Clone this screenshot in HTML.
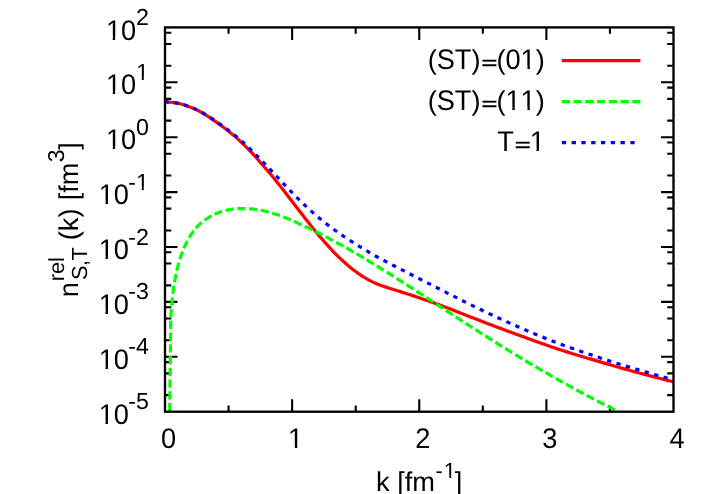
<!DOCTYPE html>
<html><head><meta charset="utf-8"><title>plot</title>
<style>
html,body{margin:0;padding:0;background:#fff;}
body{width:706px;height:494px;overflow:hidden;}
svg{display:block;will-change:transform;}
text{font-family:"Liberation Sans",sans-serif;fill:#000;text-rendering:geometricPrecision;font-kerning:none;font-variant-ligatures:none;white-space:pre;}
</style></head><body>
<svg width="706" height="494" viewBox="0 0 706 494">
<rect width="706" height="494" fill="#fff"/>
<defs><clipPath id="c"><rect x="165.0" y="27.4" width="508.5" height="384.3"/></clipPath></defs>
<path d="M165.0,32.72h6.3 M673.5,32.72h-6.3 M165.0,43.93h6.3 M673.5,43.93h-6.3 M165.0,65.77h6.3 M673.5,65.77h-6.3 M165.0,82.30h12.5 M673.5,82.30h-12.5 M165.0,87.62h6.3 M673.5,87.62h-6.3 M165.0,98.83h6.3 M673.5,98.83h-6.3 M165.0,120.67h6.3 M673.5,120.67h-6.3 M165.0,137.20h12.5 M673.5,137.20h-12.5 M165.0,142.52h6.3 M673.5,142.52h-6.3 M165.0,153.73h6.3 M673.5,153.73h-6.3 M165.0,175.57h6.3 M673.5,175.57h-6.3 M165.0,192.10h12.5 M673.5,192.10h-12.5 M165.0,197.42h6.3 M673.5,197.42h-6.3 M165.0,208.63h6.3 M673.5,208.63h-6.3 M165.0,230.47h6.3 M673.5,230.47h-6.3 M165.0,247.00h12.5 M673.5,247.00h-12.5 M165.0,252.32h6.3 M673.5,252.32h-6.3 M165.0,263.53h6.3 M673.5,263.53h-6.3 M165.0,285.37h6.3 M673.5,285.37h-6.3 M165.0,301.90h12.5 M673.5,301.90h-12.5 M165.0,307.22h6.3 M673.5,307.22h-6.3 M165.0,318.43h6.3 M673.5,318.43h-6.3 M165.0,340.27h6.3 M673.5,340.27h-6.3 M165.0,356.80h12.5 M673.5,356.80h-12.5 M165.0,362.12h6.3 M673.5,362.12h-6.3 M165.0,373.33h6.3 M673.5,373.33h-6.3 M165.0,395.17h6.3 M673.5,395.17h-6.3 M228.56,411.7v-6.3 M228.56,27.4v6.3 M292.12,411.7v-12.5 M292.12,27.4v12.5 M355.69,411.7v-6.3 M355.69,27.4v6.3 M419.25,411.7v-12.5 M419.25,27.4v12.5 M482.81,411.7v-6.3 M482.81,27.4v6.3 M546.38,411.7v-12.5 M546.38,27.4v12.5 M609.94,411.7v-6.3 M609.94,27.4v6.3" fill="none" stroke="#000" stroke-width="2.1"/>
<g fill="none" stroke-linejoin="round" clip-path="url(#c)">
<path d="M166.00,101.86 L168.50,102.04 L171.00,102.26 L173.50,102.55 L176.00,102.93 L178.50,103.42 L181.00,104.02 L183.50,104.73 L186.00,105.53 L188.50,106.41 L191.00,107.38 L193.50,108.44 L196.00,109.57 L198.50,110.78 L201.00,112.10 L203.50,113.52 L206.00,115.05 L208.50,116.67 L211.00,118.35 L213.50,120.07 L216.00,121.83 L218.50,123.62 L221.00,125.44 L223.50,127.30 L226.00,129.20 L228.50,131.15 L231.00,133.15 L233.50,135.23 L236.00,137.39 L238.50,139.64 L241.00,141.96 L243.50,144.36 L246.00,146.83 L248.50,149.37 L251.00,151.98 L253.50,154.67 L256.00,157.42 L258.50,160.24 L261.00,163.09 L263.50,165.96 L266.00,168.85 L268.50,171.78 L271.00,174.73 L273.50,177.73 L276.00,180.81 L278.50,183.95 L281.00,187.13 L283.50,190.35 L286.00,193.59 L288.50,196.84 L291.00,200.08 L293.50,203.33 L296.00,206.57 L298.50,209.81 L301.00,213.03 L303.50,216.24 L306.00,219.43 L308.50,222.60 L311.00,225.73 L313.50,228.83 L316.00,231.90 L318.50,234.92 L321.00,237.89 L323.50,240.80 L326.00,243.65 L328.50,246.43 L331.00,249.14 L333.50,251.78 L336.00,254.34 L338.50,256.82 L341.00,259.22 L343.50,261.53 L346.00,263.75 L348.50,265.89 L351.00,267.93 L353.50,269.90 L356.00,271.79 L358.50,273.59 L361.00,275.30 L363.50,276.92 L366.00,278.44 L368.50,279.85 L371.00,281.17 L373.50,282.38 L376.00,283.49 L378.50,284.51 L381.00,285.44 L383.50,286.30 L386.00,287.13 L388.50,287.93 L391.00,288.72 L393.50,289.51 L396.00,290.30 L398.50,291.09 L401.00,291.89 L403.50,292.68 L406.00,293.47 L408.50,294.26 L411.00,295.06 L413.50,295.88 L416.00,296.71 L418.50,297.55 L421.00,298.40 L423.50,299.26 L426.00,300.12 L428.50,300.99 L431.00,301.87 L433.50,302.75 L436.00,303.64 L438.50,304.55 L441.00,305.48 L443.50,306.42 L446.00,307.38 L448.50,308.35 L451.00,309.32 L453.50,310.29 L456.00,311.27 L458.50,312.25 L461.00,313.23 L463.50,314.21 L466.00,315.18 L468.50,316.16 L471.00,317.14 L473.50,318.11 L476.00,319.08 L478.50,320.04 L481.00,321.01 L483.50,321.97 L486.00,322.93 L488.50,323.88 L491.00,324.83 L493.50,325.78 L496.00,326.72 L498.50,327.66 L501.00,328.60 L503.50,329.53 L506.00,330.46 L508.50,331.38 L511.00,332.30 L513.50,333.21 L516.00,334.13 L518.50,335.04 L521.00,335.96 L523.50,336.87 L526.00,337.79 L528.50,338.71 L531.00,339.62 L533.50,340.53 L536.00,341.43 L538.50,342.32 L541.00,343.21 L543.50,344.10 L546.00,344.97 L548.50,345.84 L551.00,346.70 L553.50,347.55 L556.00,348.39 L558.50,349.22 L561.00,350.03 L563.50,350.83 L566.00,351.61 L568.50,352.39 L571.00,353.16 L573.50,353.92 L576.00,354.68 L578.50,355.43 L581.00,356.18 L583.50,356.92 L586.00,357.66 L588.50,358.41 L591.00,359.15 L593.50,359.90 L596.00,360.65 L598.50,361.40 L601.00,362.14 L603.50,362.88 L606.00,363.62 L608.50,364.35 L611.00,365.08 L613.50,365.80 L616.00,366.52 L618.50,367.23 L621.00,367.94 L623.50,368.64 L626.00,369.35 L628.50,370.04 L631.00,370.73 L633.50,371.42 L636.00,372.10 L638.50,372.78 L641.00,373.46 L643.50,374.13 L646.00,374.80 L648.50,375.46 L651.00,376.12 L653.50,376.77 L656.00,377.43 L658.50,378.07 L661.00,378.72 L663.50,379.35 L666.00,379.99 L668.50,380.62 L671.00,381.25 L673.50,381.87" stroke="#f00" stroke-width="3.2"/>
<path d="M169.70,411.70 L170.80,318.31 L170.88,316.86 L170.97,315.41 L171.06,313.97 L171.15,312.52 L171.25,311.08 L171.35,309.64 L171.46,308.20 L171.57,306.76 L171.69,305.32 L171.81,303.88 L171.94,302.45 L172.07,301.02 L172.21,299.58 L172.36,298.15 L172.51,296.73 L172.67,295.30 L172.84,293.87 L173.01,292.45 L173.19,291.03 L173.38,289.60 L173.58,288.18 L173.78,286.77 L174.00,285.35 L174.22,283.93 L174.45,282.52 L174.69,281.11 L174.94,279.70 L175.20,278.29 L175.47,276.88 L175.76,275.48 L176.05,274.07 L176.35,272.67 L176.66,271.27 L176.99,269.87 L177.32,268.47 L177.67,267.08 L178.03,265.68 L178.40,264.29 L178.79,262.91 L179.19,261.52 L179.60,260.14 L180.03,258.76 L180.47,257.38 L180.93,256.01 L181.41,254.65 L181.90,253.29 L182.41,251.93 L182.94,250.58 L183.49,249.24 L184.05,247.90 L184.64,246.56 L185.24,245.24 L185.86,243.92 L186.51,242.60 L187.17,241.30 L187.86,240.01 L188.57,238.72 L189.30,237.45 L190.05,236.19 L190.82,234.99 L191.62,233.80 L192.44,232.64 L193.28,231.49 L194.14,230.37 L195.02,229.27 L195.93,228.19 L196.86,227.14 L197.82,226.12 L198.79,225.12 L199.80,224.16 L200.82,223.22 L201.87,222.30 L202.95,221.42 L204.04,220.57 L205.17,219.76 L206.31,218.98 L207.48,218.24 L208.66,217.50 L209.87,216.76 L211.10,216.05 L212.35,215.37 L213.61,214.73 L214.89,214.12 L216.19,213.54 L217.51,212.99 L218.83,212.47 L220.18,211.99 L221.53,211.56 L222.90,211.16 L224.28,210.80 L225.67,210.46 L227.07,210.15 L228.48,209.87 L229.90,209.62 L231.32,209.39 L232.76,209.20 L234.20,209.03 L235.64,208.89 L237.09,208.77 L238.54,208.68 L239.99,208.62 L241.45,208.58 L242.91,208.57 L244.36,208.58 L245.82,208.61 L247.28,208.67 L248.73,208.74 L250.18,208.84 L251.63,208.96 L253.07,209.10 L254.51,209.27 L255.94,209.46 L257.36,209.67 L258.79,209.90 L260.20,210.15 L261.61,210.42 L263.02,210.71 L264.42,211.02 L265.82,211.35 L267.21,211.70 L268.60,212.06 L269.98,212.44 L271.36,212.83 L272.73,213.24 L274.10,213.66 L275.47,214.10 L276.83,214.55 L278.19,215.01 L279.55,215.49 L280.90,215.98 L282.25,216.47 L283.59,216.98 L284.93,217.50 L286.27,218.04 L287.61,218.59 L288.94,219.15 L290.27,219.72 L291.60,220.29 L292.92,220.87 L294.25,221.45 L295.57,222.04 L296.89,222.64 L298.20,223.23 L299.52,223.84 L300.83,224.44 L302.14,225.05 L303.45,225.66 L304.75,226.28 L306.06,226.90 L307.36,227.52 L308.66,228.14 L309.96,228.77 L311.26,229.40 L312.55,230.04 L313.85,230.67 L315.14,231.31 L316.43,231.96 L317.72,232.60 L319.01,233.25 L320.29,233.91 L321.57,234.56 L322.86,235.22 L324.14,235.88 L325.42,236.54 L326.69,237.21 L327.97,237.88 L329.24,238.55 L330.51,239.23 L331.78,239.90 L333.05,240.58 L334.32,241.27 L335.59,241.95 L336.85,242.64 L338.12,243.33 L339.38,244.02 L340.64,244.72 L341.90,245.41 L343.15,246.11 L344.41,246.82 L345.67,247.52 L346.92,248.23 L348.17,248.94 L349.42,249.65 L350.67,250.36 L351.92,251.08 L353.17,251.79 L354.42,252.51 L355.66,253.24 L356.90,253.96 L358.15,254.69 L359.39,255.41 L360.63,256.14 L361.87,256.88 L363.11,257.61 L364.34,258.35 L365.58,259.08 L366.81,259.82 L368.05,260.56 L369.28,261.31 L370.51,262.05 L371.74,262.80 L372.98,263.54 L374.20,264.29 L375.43,265.04 L376.66,265.80 L377.89,266.55 L379.11,267.31 L380.34,268.06 L381.56,268.82 L382.78,269.58 L384.01,270.34 L385.23,271.11 L386.45,271.87 L387.67,272.63 L388.89,273.40 L390.11,274.17 L391.33,274.94 L392.54,275.71 L393.76,276.48 L394.98,277.25 L396.19,278.02 L397.41,278.80 L398.62,279.57 L399.83,280.35 L401.05,281.13 L402.26,281.90 L403.47,282.68 L404.68,283.46 L405.89,284.24 L407.11,285.03 L408.32,285.81 L409.53,286.59 L410.74,287.37 L411.94,288.16 L413.15,288.94 L414.36,289.73 L415.57,290.52 L416.78,291.30 L417.98,292.09 L419.19,292.88 L420.40,293.66 L421.61,294.45 L422.81,295.24 L424.02,296.03 L425.22,296.82 L426.43,297.61 L427.64,298.40 L428.84,299.19 L430.05,299.98 L431.25,300.77 L432.46,301.56 L433.66,302.36 L434.87,303.15 L436.07,303.94 L437.28,304.73 L438.48,305.52 L439.69,306.31 L440.89,307.10 L442.10,307.90 L443.30,308.69 L444.51,309.48 L445.71,310.27 L446.92,311.06 L448.13,311.85 L449.33,312.64 L450.54,313.43 L451.74,314.22 L452.95,315.01 L454.16,315.80 L455.36,316.58 L456.57,317.37 L457.78,318.16 L458.99,318.94 L460.20,319.73 L461.40,320.52 L462.61,321.30 L463.82,322.09 L465.03,322.87 L466.24,323.65 L467.45,324.44 L468.66,325.22 L469.87,326.00 L471.08,326.78 L472.30,327.56 L473.51,328.34 L474.72,329.12 L475.93,329.90 L477.15,330.68 L478.36,331.45 L479.57,332.23 L480.79,333.01 L482.00,333.78 L483.22,334.56 L484.43,335.33 L485.65,336.10 L486.86,336.88 L488.08,337.65 L489.30,338.42 L490.52,339.19 L491.73,339.96 L492.95,340.73 L494.17,341.49 L495.39,342.26 L496.61,343.03 L497.83,343.79 L499.05,344.56 L500.27,345.32 L501.50,346.08 L502.72,346.84 L503.94,347.60 L505.17,348.36 L506.39,349.12 L507.61,349.88 L508.84,350.64 L510.06,351.40 L511.29,352.15 L512.52,352.90 L513.75,353.66 L514.97,354.41 L516.20,355.16 L517.43,355.91 L518.66,356.66 L519.89,357.41 L521.12,358.15 L522.35,358.89 L523.59,359.63 L524.82,360.37 L526.05,361.10 L527.29,361.84 L528.52,362.57 L529.76,363.30 L530.99,364.03 L532.23,364.76 L533.47,365.49 L534.70,366.22 L535.94,366.95 L537.18,367.67 L538.42,368.40 L539.66,369.12 L540.91,369.84 L542.15,370.57 L543.39,371.28 L544.63,372.00 L545.88,372.72 L547.12,373.44 L548.37,374.15 L549.62,374.87 L550.86,375.58 L552.11,376.29 L553.36,377.00 L554.61,377.71 L555.86,378.41 L557.11,379.12 L558.36,379.82 L559.62,380.53 L560.87,381.23 L562.12,381.93 L563.38,382.63 L564.64,383.33 L565.89,384.02 L567.15,384.72 L568.41,385.41 L569.67,386.10 L570.93,386.80 L572.19,387.49 L573.45,388.19 L574.71,388.88 L575.98,389.58 L577.24,390.27 L578.51,390.96 L579.77,391.64 L581.04,392.33 L582.31,393.01 L583.58,393.70 L584.85,394.38 L586.12,395.06 L587.39,395.74 L588.66,396.42 L589.94,397.09 L591.21,397.76 L592.49,398.44 L593.76,399.11 L595.04,399.78 L596.32,400.44 L597.60,401.11 L598.88,401.77 L600.16,402.44 L601.44,403.10 L602.73,403.76 L604.01,404.41 L605.30,405.07 L606.58,405.72 L607.87,406.37 L609.16,407.02 L610.45,407.67 L611.74,408.32 L613.03,408.96 L614.32,409.61 L615.62,410.25 L618.52,411.70" stroke="#0f0" stroke-width="3.2" stroke-dasharray="8.2 3.55" stroke-dashoffset="11.3"/>
<path d="M166.00,101.86 L168.50,102.04 L171.00,102.25 L173.50,102.54 L176.00,102.91 L178.50,103.39 L181.00,103.98 L183.50,104.68 L186.00,105.46 L188.50,106.32 L191.00,107.27 L193.50,108.30 L196.00,109.41 L198.50,110.59 L201.00,111.87 L203.50,113.26 L206.00,114.75 L208.50,116.32 L211.00,117.96 L213.50,119.63 L216.00,121.33 L218.50,123.06 L221.00,124.81 L223.50,126.60 L226.00,128.42 L228.50,130.29 L231.00,132.20 L233.50,134.18 L236.00,136.23 L238.50,138.36 L241.00,140.55 L243.50,142.80 L246.00,145.11 L248.50,147.47 L251.00,149.89 L253.50,152.36 L256.00,154.87 L258.50,157.43 L261.00,160.01 L263.50,162.58 L266.00,165.15 L268.50,167.73 L271.00,170.32 L273.50,172.92 L276.00,175.57 L278.50,178.24 L281.00,180.92 L283.50,183.59 L286.00,186.26 L288.50,188.90 L291.00,191.50 L293.50,194.08 L296.00,196.61 L298.50,199.11 L301.00,201.56 L303.50,203.97 L306.00,206.33 L308.50,208.65 L311.00,210.91 L313.50,213.13 L316.00,215.29 L318.50,217.41 L321.00,219.48 L323.50,221.50 L326.00,223.48 L328.50,225.41 L331.00,227.30 L333.50,229.15 L336.00,230.96 L338.50,232.74 L341.00,234.49 L343.50,236.20 L346.00,237.88 L348.50,239.54 L351.00,241.16 L353.50,242.77 L356.00,244.36 L358.50,245.93 L361.00,247.47 L363.50,249.00 L366.00,250.49 L368.50,251.97 L371.00,253.42 L373.50,254.84 L376.00,256.24 L378.50,257.61 L381.00,258.95 L383.50,260.28 L386.00,261.59 L388.50,262.89 L391.00,264.19 L393.50,265.48 L396.00,266.78 L398.50,268.07 L401.00,269.36 L403.50,270.65 L406.00,271.93 L408.50,273.21 L411.00,274.48 L413.50,275.76 L416.00,277.04 L418.50,278.32 L421.00,279.60 L423.50,280.88 L426.00,282.16 L428.50,283.43 L431.00,284.70 L433.50,285.97 L436.00,287.24 L438.50,288.51 L441.00,289.79 L443.50,291.06 L446.00,292.34 L448.50,293.62 L451.00,294.90 L453.50,296.17 L456.00,297.44 L458.50,298.70 L461.00,299.96 L463.50,301.21 L466.00,302.45 L468.50,303.69 L471.00,304.93 L473.50,306.15 L476.00,307.37 L478.50,308.58 L481.00,309.79 L483.50,310.98 L486.00,312.17 L488.50,313.35 L491.00,314.53 L493.50,315.69 L496.00,316.85 L498.50,318.00 L501.00,319.14 L503.50,320.28 L506.00,321.40 L508.50,322.52 L511.00,323.63 L513.50,324.74 L516.00,325.83 L518.50,326.93 L521.00,328.01 L523.50,329.09 L526.00,330.17 L528.50,331.24 L531.00,332.30 L533.50,333.36 L536.00,334.41 L538.50,335.45 L541.00,336.48 L543.50,337.50 L546.00,338.51 L548.50,339.51 L551.00,340.50 L553.50,341.48 L556.00,342.45 L558.50,343.41 L561.00,344.35 L563.50,345.27 L566.00,346.18 L568.50,347.07 L571.00,347.96 L573.50,348.84 L576.00,349.72 L578.50,350.58 L581.00,351.44 L583.50,352.29 L586.00,353.14 L588.50,353.98 L591.00,354.83 L593.50,355.67 L596.00,356.51 L598.50,357.34 L601.00,358.17 L603.50,359.00 L606.00,359.81 L608.50,360.62 L611.00,361.42 L613.50,362.22 L616.00,363.01 L618.50,363.80 L621.00,364.58 L623.50,365.35 L626.00,366.12 L628.50,366.89 L631.00,367.65 L633.50,368.40 L636.00,369.15 L638.50,369.90 L641.00,370.64 L643.50,371.37 L646.00,372.10 L648.50,372.83 L651.00,373.54 L653.50,374.26 L656.00,374.97 L658.50,375.67 L661.00,376.37 L663.50,377.07 L666.00,377.76 L668.50,378.45 L671.00,379.13 L673.50,379.80" stroke="#00f" stroke-width="3.2" stroke-dasharray="4.3 5.512" stroke-dashoffset="1.5"/>
</g>
<g fill="none">
<path d="M561.8,60.55H640.4" stroke="#f00" stroke-width="3.2"/>
<path d="M561.8,101.55H640.6" stroke="#0f0" stroke-width="3.2" stroke-dasharray="8.2 3.55"/>
<path d="M561.8,142.55H635.2" stroke="#00f" stroke-width="3.2" stroke-dasharray="4.3 5.49"/>
</g>
<rect x="165.0" y="27.4" width="508.5" height="384.3" fill="none" stroke="#000" stroke-width="2.35"/>
<g>
<text transform="translate(105.92,39.50) scale(1,1.045)" font-size="27.2">10</text><rect x="107.19" y="36.28" width="5.57" height="4.12" fill="#fff"/><rect x="115.16" y="36.28" width="5.36" height="4.12" fill="#fff"/><text x="135.90" y="24.95" font-size="23.2">2</text><text transform="translate(105.92,94.40) scale(1,1.045)" font-size="27.2">10</text><rect x="107.19" y="91.18" width="5.57" height="4.12" fill="#fff"/><rect x="115.16" y="91.18" width="5.36" height="4.12" fill="#fff"/><text x="135.90" y="79.85" font-size="23.2">1</text><rect x="136.86" y="77.02" width="4.87" height="3.73" fill="#fff"/><rect x="143.78" y="77.02" width="4.69" height="3.73" fill="#fff"/><text transform="translate(105.92,149.30) scale(1,1.045)" font-size="27.2">10</text><rect x="107.19" y="146.08" width="5.57" height="4.12" fill="#fff"/><rect x="115.16" y="146.08" width="5.36" height="4.12" fill="#fff"/><text x="135.90" y="134.75" font-size="23.2">0</text><text transform="translate(98.66,204.20) scale(1,1.045)" font-size="27.2">10</text><rect x="99.93" y="200.98" width="5.57" height="4.12" fill="#fff"/><rect x="107.91" y="200.98" width="5.36" height="4.12" fill="#fff"/><text x="128.17" y="189.65" font-size="23.2">-1</text><rect x="136.86" y="186.82" width="4.87" height="3.73" fill="#fff"/><rect x="143.78" y="186.82" width="4.69" height="3.73" fill="#fff"/><text transform="translate(98.66,259.10) scale(1,1.045)" font-size="27.2">10</text><rect x="99.93" y="255.88" width="5.57" height="4.12" fill="#fff"/><rect x="107.91" y="255.88" width="5.36" height="4.12" fill="#fff"/><text x="128.17" y="244.55" font-size="23.2">-2</text><text transform="translate(98.66,314.00) scale(1,1.045)" font-size="27.2">10</text><rect x="99.93" y="310.78" width="5.57" height="4.12" fill="#fff"/><rect x="107.91" y="310.78" width="5.36" height="4.12" fill="#fff"/><text x="128.17" y="299.45" font-size="23.2">-3</text><text transform="translate(98.66,368.90) scale(1,1.045)" font-size="27.2">10</text><rect x="99.93" y="365.68" width="5.57" height="4.12" fill="#fff"/><rect x="107.91" y="365.68" width="5.36" height="4.12" fill="#fff"/><text x="128.17" y="354.35" font-size="23.2">-4</text><text transform="translate(98.66,423.80) scale(1,1.045)" font-size="27.2">10</text><rect x="99.93" y="420.58" width="5.57" height="4.12" fill="#fff"/><rect x="107.91" y="420.58" width="5.36" height="4.12" fill="#fff"/><text x="128.17" y="409.25" font-size="23.2">-5</text>
<text transform="translate(160.94,447.50) scale(1,1.045)" font-size="27.2">0</text><text transform="translate(288.06,447.50) scale(1,1.045)" font-size="27.2">1</text><rect x="289.33" y="444.28" width="5.57" height="4.12" fill="#fff"/><rect x="297.31" y="444.28" width="5.36" height="4.12" fill="#fff"/><text transform="translate(415.19,447.50) scale(1,1.045)" font-size="27.2">2</text><text transform="translate(542.31,447.50) scale(1,1.045)" font-size="27.2">3</text><text transform="translate(669.44,447.50) scale(1,1.045)" font-size="27.2">4</text>
<text x="427.67" y="69.30" font-size="27.2">(</text><text transform="translate(436.73,69.30) scale(1,1.045)" font-size="27.2">ST</text><text x="471.49" y="69.30" font-size="27.2">)</text><text transform="translate(481.45,69.20) scale(1,0.68)" font-size="27.2" stroke="#000" stroke-width="0.7">=</text><text x="496.43" y="69.30" font-size="27.2">(</text><text transform="translate(505.49,69.30) scale(1,1.045)" font-size="27.2">01</text><rect x="521.89" y="66.08" width="5.57" height="4.12" fill="#fff"/><rect x="529.86" y="66.08" width="5.36" height="4.12" fill="#fff"/><text x="535.74" y="69.30" font-size="27.2">)</text><text x="427.67" y="110.30" font-size="27.2">(</text><text transform="translate(436.73,110.30) scale(1,1.045)" font-size="27.2">ST</text><text x="471.49" y="110.30" font-size="27.2">)</text><text transform="translate(481.45,110.20) scale(1,0.68)" font-size="27.2" stroke="#000" stroke-width="0.7">=</text><text x="496.43" y="110.30" font-size="27.2">(</text><text transform="translate(505.49,110.30) scale(1,1.045)" font-size="27.2">11</text><rect x="506.76" y="107.08" width="5.57" height="4.12" fill="#fff"/><rect x="514.73" y="107.08" width="5.36" height="4.12" fill="#fff"/><rect x="521.89" y="107.08" width="5.57" height="4.12" fill="#fff"/><rect x="529.86" y="107.08" width="5.36" height="4.12" fill="#fff"/><text x="535.74" y="110.30" font-size="27.2">)</text><text transform="translate(497.17,151.30) scale(1,1.045)" font-size="27.2">T</text><text transform="translate(514.69,151.20) scale(1,0.68)" font-size="27.2" stroke="#000" stroke-width="0.7">=</text><text transform="translate(529.67,151.30) scale(1,1.045)" font-size="27.2">1</text><rect x="530.94" y="148.08" width="5.57" height="4.12" fill="#fff"/><rect x="538.92" y="148.08" width="5.36" height="4.12" fill="#fff"/>
<text x="376" y="491" font-size="27.2">k [fm</text>
<text x="435.60" y="478.40" font-size="21.8">-</text><text x="443.86" y="478.40" font-size="21.8">1</text><rect x="444.72" y="475.67" width="4.62" height="3.63" fill="#fff"/><rect x="451.27" y="475.67" width="4.45" height="3.63" fill="#fff"/>
<text x="454.7" y="491" font-size="27.2">]</text>
<g transform="translate(77.9,300.8) rotate(-90)">
<text x="3.5" y="0" font-size="27.2">n</text>
<text x="19.5" y="-13.7" font-size="21.8">rel</text>
<text x="20.9" y="8.85" font-size="21.8" letter-spacing="-0.6">S,T</text>
<text x="60.56" y="0" font-size="27.2">(k)</text>
<text x="100.5" y="0" font-size="27.2">[fm</text>
<text x="138.5" y="-14.3" font-size="23">3</text>
<text x="151" y="0" font-size="27.2">]</text>
</g>
</g>
</svg>
</body></html>
